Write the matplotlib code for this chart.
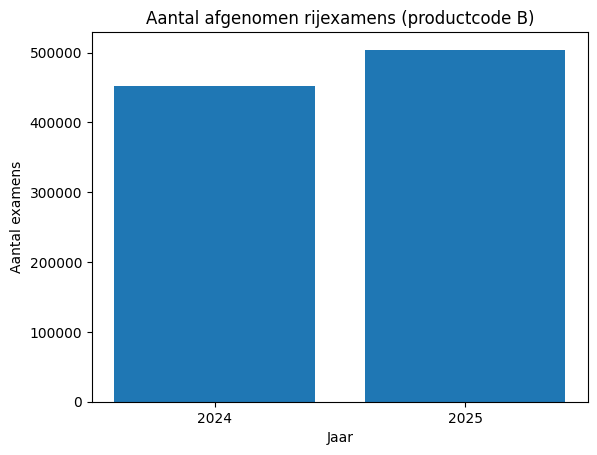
import matplotlib
matplotlib.use("Agg")
import matplotlib.pyplot as plt

jaren = ["2024", "2025"]
aantal_examens = [452800, 504200]

fig, ax = plt.subplots(figsize=(6.4, 4.8), dpi=100)
ax.bar(jaren, aantal_examens)
ax.set_title("Aantal afgenomen rijexamens (productcode B)")
ax.set_xlabel("Jaar")
ax.set_ylabel("Aantal examens")

fig.savefig("out.png", bbox_inches="tight")
